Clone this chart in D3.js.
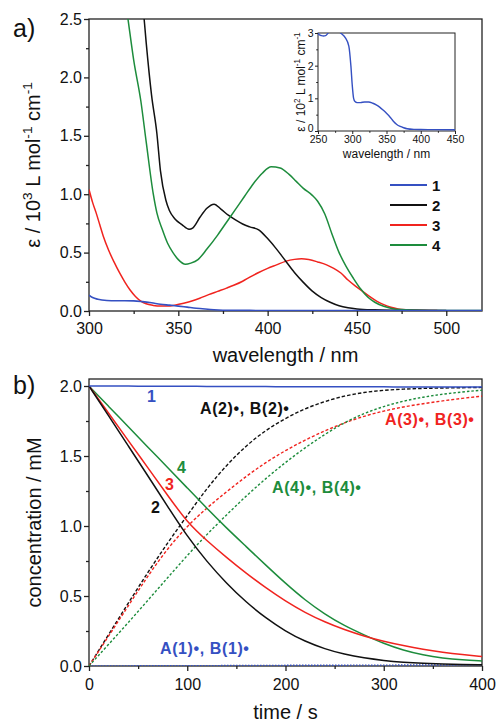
<!DOCTYPE html>
<html><head><meta charset="utf-8">
<script src="https://cdn.jsdelivr.net/npm/d3@7"></script>
<style>
body{margin:0;background:#fff}
text{font-family:Arial,"Liberation Sans",Helvetica,sans-serif}
</style>
</head><body>
<svg id="fig" width="497" height="722"></svg>
<script>
// ---------- a) absorption spectra (ε in 10^3 L mol^-1 cm^-1) ----------
const wl1 = [300,302,305,310,315,320,325,330,335,340,345,350,355,360,365,370,375,380,390,400,450,520];
const eps1 = [0.135,0.115,0.1,0.09,0.088,0.088,0.087,0.08,0.07,0.058,0.05,0.042,0.033,0.024,0.017,0.011,0.007,0.005,0.005,0.0045,0.004,0.004];

const wl2 = [325,330,332,335,338,340,343,345,348,352,356,358,362,366,370,374,378,382,386,390,395,400,405,410,415,420,425,430,435,440,445,450,460,470,480,500];
const eps2 = [3.2,2.65,2.3,1.85,1.52,1.2,0.95,0.86,0.79,0.74,0.7,0.71,0.8,0.88,0.915,0.87,0.82,0.78,0.745,0.72,0.695,0.62,0.53,0.43,0.33,0.245,0.17,0.115,0.075,0.045,0.028,0.018,0.01,0.007,0.006,0.005];

const wl3 = [300,302,304,306,308,311,314,317,320,323,326,329,332,336,340,344,348,353,358,362,367,372,377,381,386,390,395,400,405,410,415,419,423,428,433,437,441,445,449,453,457,461,465,469,473,478,485,495];
const eps3 = [1.04,0.93,0.84,0.74,0.64,0.52,0.42,0.33,0.25,0.18,0.125,0.085,0.062,0.048,0.042,0.042,0.05,0.066,0.087,0.109,0.14,0.168,0.196,0.22,0.255,0.29,0.33,0.365,0.395,0.425,0.442,0.447,0.44,0.42,0.395,0.365,0.325,0.265,0.215,0.17,0.125,0.085,0.055,0.032,0.018,0.01,0.006,0.005];

const wl4 = [315,320,322,325,329,332,336,338,341,344,347,350,354,357,361,366,372,377,382,387,392,397,402,407,412,416,420,425,428,432,436,440,444,448,452,456,460,465,470,475,480,490,520];
const eps4 = [3.2,2.7,2.48,2.15,1.8,1.45,1.0,0.84,0.7,0.58,0.5,0.44,0.4,0.41,0.44,0.53,0.65,0.76,0.87,0.98,1.09,1.18,1.235,1.225,1.17,1.11,1.05,0.99,0.94,0.83,0.66,0.5,0.38,0.28,0.19,0.12,0.075,0.04,0.02,0.012,0.008,0.005,0.004];

// inset: compound 1 (ε in 10^2 L mol^-1 cm^-1)
const insetWl = [250,252,255,258,261,264,268,272,277,283,290,295,298,300,302,304,307,312,318,324,330,335,340,345,350,355,360,365,370,375,380,390,400,420,450];
const insetEps = [3.0,2.94,2.92,2.91,2.92,2.98,3.1,3.18,3.12,3.0,2.85,2.6,2.0,1.4,1.0,0.9,0.87,0.87,0.89,0.89,0.85,0.8,0.73,0.64,0.54,0.43,0.3,0.2,0.14,0.1,0.07,0.05,0.045,0.042,0.04];

const specNames = ["1","2","3","4"];

// ---------- b) kinetics (concentration in mM) ----------
const timeS = [0,20,40,60,80,100,120,140,160,180,200,220,240,260,280,300,320,340,360,380,400];
const conc1 = [2.0,2.0,1.999,1.999,1.998,1.998,1.997,1.997,1.996,1.996,1.995,1.995,1.995,1.994,1.994,1.994,1.993,1.993,1.993,1.992,1.992];
const conc2 = [2.0,1.786,1.572,1.358,1.14,0.925,0.745,0.59,0.455,0.342,0.248,0.175,0.122,0.083,0.057,0.039,0.027,0.019,0.014,0.011,0.009];
const conc3 = [2.0,1.805,1.61,1.415,1.22,1.025,0.895,0.775,0.662,0.558,0.463,0.381,0.314,0.259,0.213,0.175,0.145,0.119,0.098,0.081,0.067];
const conc4 = [2.0,1.854,1.709,1.563,1.418,1.272,1.126,0.985,0.853,0.72,0.59,0.47,0.37,0.287,0.222,0.16,0.112,0.078,0.056,0.043,0.036];
const rad1 = [0,0.001,0.001,0.002,0.002,0.002,0.003,0.003,0.004,0.004,0.005,0.005,0.005,0.006,0.006,0.006,0.007,0.007,0.007,0.008,0.008];
const rad2 = [0,0.225,0.45,0.67,0.88,1.075,1.27,1.435,1.575,1.685,1.77,1.84,1.89,1.93,1.955,1.97,1.978,1.983,1.986,1.988,1.99];
const rad3 = [0,0.215,0.43,0.645,0.84,1.0,1.13,1.245,1.355,1.455,1.54,1.615,1.68,1.738,1.785,1.822,1.851,1.874,1.894,1.912,1.928];
const rad4 = [0,0.155,0.31,0.47,0.63,0.79,0.94,1.08,1.215,1.34,1.455,1.56,1.655,1.74,1.805,1.855,1.893,1.921,1.942,1.958,1.97];

const radLabels = ["A(1)•, B(1)•","A(2)•, B(2)•","A(3)•, B(3)•","A(4)•, B(4)•"];

// axis tick values
const specMajorX = [300,350,400,450,500], specMinorX = [325,375,425,475];
const specMajorY = [0,0.5,1.0,1.5,2.0,2.5], specMinorY = [0.25,0.75,1.25,1.75,2.25];
const insetMajorX = [250,300,350,400,450], insetMinorX = [275,325,375,425];
const insetMajorY = [0,1,2,3], insetMinorY = [0.5,1.5,2.5];
const kinMajorX = [0,100,200,300,400], kinMinorX = [50,150,250,350];
const kinMajorY = [0,0.5,1.0,1.5,2.0], kinMinorY = [0.25,0.75,1.25,1.75];

const COL = {blue:"#3550c2", black:"#111111", red:"#f0241f", green:"#1d8c3c"};
const seriesCol = [COL.blue, COL.black, COL.red, COL.green];
const AX = "#222";

const svg = d3.select("#fig");
svg.append("rect").attr("width",497).attr("height",722).attr("fill","#fff");
const defs = svg.append("defs");

function clip(id, x, y) {
  defs.append("clipPath").attr("id", id).append("rect")
    .attr("x", x.range()[0]).attr("y", y.range()[1])
    .attr("width", x.range()[1]-x.range()[0]).attr("height", y.range()[0]-y.range()[1]);
}

function drawFrame(x, y, o) {
  const g = svg.append("g");
  const style = s => s.call(a => a.select(".domain").remove())
    .call(a => a.selectAll("line").attr("stroke", AX).attr("stroke-width", o.sw))
    .call(a => a.selectAll("text").attr("fill", "#111").attr("font-size", o.fs));
  const y0 = y.range()[0], x0 = x.range()[0];
  g.append("g").attr("transform", `translate(0,${y0})`)
    .call(d3.axisBottom(x).tickValues(o.xMinor).tickSize(o.minor).tickFormat(""))
    .call(style);
  g.append("g").attr("transform", `translate(0,${y0})`)
    .call(d3.axisBottom(x).tickValues(o.xMajor).tickSize(o.major).tickPadding(o.padX).tickFormat(o.fx))
    .call(style);
  g.append("g").attr("transform", `translate(${x0},0)`)
    .call(d3.axisLeft(y).tickValues(o.yMinor).tickSize(o.minor).tickFormat(""))
    .call(style);
  g.append("g").attr("class", "yMajor").attr("transform", `translate(${x0},0)`)
    .call(d3.axisLeft(y).tickValues(o.yMajor).tickSize(o.major).tickPadding(o.padY).tickFormat(o.fy))
    .call(style);
  g.append("rect")
    .attr("x", x0).attr("y", y.range()[1])
    .attr("width", x.range()[1]-x0).attr("height", y0-y.range()[1])
    .attr("fill", "none").attr("stroke", AX).attr("stroke-width", o.sw);
  return g;
}

// text with superscripts: parts = [[string, isSup], ...]
function richText(sel, parts, fs) {
  const shift = fs*0.42;
  let raised = false;
  parts.forEach(([s, sup]) => {
    const t = sel.append("tspan").text(s);
    if (sup && !raised) { t.attr("dy", -shift).attr("font-size", fs*0.68); raised = true; }
    else if (sup) { t.attr("font-size", fs*0.68); }
    else if (raised) { t.attr("dy", shift); raised = false; }
  });
}

function curve(gp, xs, ys, x, y, color, opts) {
  const data = xs.map((v,i) => [v, ys[i]]);
  gp.append("path").datum(data)
    .attr("fill","none").attr("stroke",color)
    .attr("stroke-width", opts.w || 1.5)
    .attr("stroke-dasharray", opts.dash || null)
    .attr("d", d3.line().x(d => x(d[0])).y(d => y(d[1])).curve(opts.curve || d3.curveMonotoneX));
}

// ================= panel a =================
const xA = d3.scaleLinear().domain([300,520]).range([89,482]);
const yA = d3.scaleLinear().domain([0,2.5]).range([311,19]);
clip("clipA", xA, yA);
drawFrame(xA, yA, {xMajor:specMajorX, xMinor:specMinorX, yMajor:specMajorY, yMinor:specMinorY,
  fx:d3.format("d"), fy:d3.format(".1f"), major:5, minor:3, padX:7, padY:2, fs:16, sw:1.3});

// inset
const xI = d3.scaleLinear().domain([250,450]).range([318,455]);
const yI = d3.scaleLinear().domain([0,3]).range([131,33]);
clip("clipI", xI, yI);
const inset = drawFrame(xI, yI, {xMajor:insetMajorX, xMinor:insetMinorX, yMajor:insetMajorY, yMinor:insetMinorY,
  fx:d3.format("d"), fy:d3.format("d"), major:3, minor:1.8, padX:2, padY:1.5, fs:10.5, sw:1});
// lift the "0" label a little so it clears the "250" label below it
inset.select(".yMajor").selectAll(".tick text").filter(d => d === 0).attr("dy", "0.05em");
const gI = svg.append("g").attr("clip-path","url(#clipI)");
curve(gI, insetWl, insetEps, xI, yI, COL.blue, {w:1.4});
svg.append("text").attr("x", (318+455)/2).attr("y", 157.5).attr("text-anchor","middle")
  .attr("font-size",12).attr("fill","#111").text("wavelength / nm");
richText(svg.append("text").attr("transform","translate(305,82) rotate(-90)")
  .attr("text-anchor","middle").attr("font-size",12).attr("fill","#111"),
  [["ε / 10",false],["2",true],[" L mol",false],["-1",true],[" cm",false],["-1",true]], 12);

// spectra
const gA = svg.append("g").attr("clip-path","url(#clipA)");
curve(gA, wl3, eps3, xA, yA, COL.red, {});
curve(gA, wl2, eps2, xA, yA, COL.black, {});
curve(gA, wl4, eps4, xA, yA, COL.green, {});
curve(gA, wl1, eps1, xA, yA, COL.blue, {w:1.6});

// legend
const leg = svg.append("g");
specNames.forEach((n,i) => {
  const yy = 185 + i*20;
  leg.append("line").attr("x1",390).attr("x2",427).attr("y1",yy).attr("y2",yy)
    .attr("stroke",seriesCol[i]).attr("stroke-width",1.8);
  leg.append("text").attr("x",432).attr("y",yy+5.5).attr("font-size",15).attr("font-weight","bold")
    .attr("fill","#111").text(n);
});

svg.append("text").attr("x",(89+482)/2).attr("y",362).attr("text-anchor","middle")
  .attr("font-size",20).attr("fill","#111").text("wavelength / nm");
richText(svg.append("text").attr("transform",`translate(40,${(19+311)/2}) rotate(-90)`)
  .attr("text-anchor","middle").attr("font-size",20).attr("fill","#111"),
  [["ε / 10",false],["3",true],[" L mol",false],["-1",true],[" cm",false],["-1",true]], 20);
svg.append("text").attr("x",13).attr("y",37).attr("font-size",25).attr("fill","#111").text("a)");

// ================= panel b =================
const xB = d3.scaleLinear().domain([0,400]).range([89,482]);
const yB = d3.scaleLinear().domain([0,2.05]).range([666,379]);
clip("clipB", xB, yB);
drawFrame(xB, yB, {xMajor:kinMajorX, xMinor:kinMinorX, yMajor:kinMajorY, yMinor:kinMinorY,
  fx:d3.format("d"), fy:d3.format(".1f"), major:5, minor:3, padX:8, padY:2, fs:16, sw:1.3});

const gB = svg.append("g").attr("clip-path","url(#clipB)");
const radSeries = [rad1, rad2, rad3, rad4];
const concSeries = [conc1, conc2, conc3, conc4];
const dashes = ["1.5,1.5","3.5,2","3,2","2.5,2"];
radSeries.forEach((r,i) => curve(gB, timeS, r, xB, yB, seriesCol[i], {w:1.4, dash:dashes[i], curve:d3.curveBasis}));
[3,2,1,0].forEach(i => curve(gB, timeS, concSeries[i], xB, yB, seriesCol[i], {w:1.5, curve:d3.curveBasis}));

// curve labels
const lab = (x, y, txt, col, ls) => svg.append("text").attr("x",x).attr("y",y)
  .attr("font-size",16).attr("font-weight","bold").attr("fill",col)
  .attr("letter-spacing", ls || 0).text(txt);
lab(147, 402, specNames[0], COL.blue);
lab(151, 513, specNames[1], COL.black);
lab(165, 490, specNames[2], COL.red);
lab(177, 473, specNames[3], COL.green);
lab(200, 414, radLabels[1], COL.black, 0.6);
lab(385, 425, radLabels[2], COL.red, 0.6);
lab(272, 493, radLabels[3], COL.green, 0.6);
lab(160, 654, radLabels[0], COL.blue, 0.6);

svg.append("text").attr("x",(89+482)/2).attr("y",719).attr("text-anchor","middle")
  .attr("font-size",20).attr("fill","#111").text("time / s");
svg.append("text").attr("transform",`translate(41,${(379+666)/2}) rotate(-90)`)
  .attr("text-anchor","middle").attr("font-size",20).attr("fill","#111").text("concentration / mM");
svg.append("text").attr("x",13).attr("y",394).attr("font-size",25).attr("fill","#111").text("b)");
</script>
</body></html>
